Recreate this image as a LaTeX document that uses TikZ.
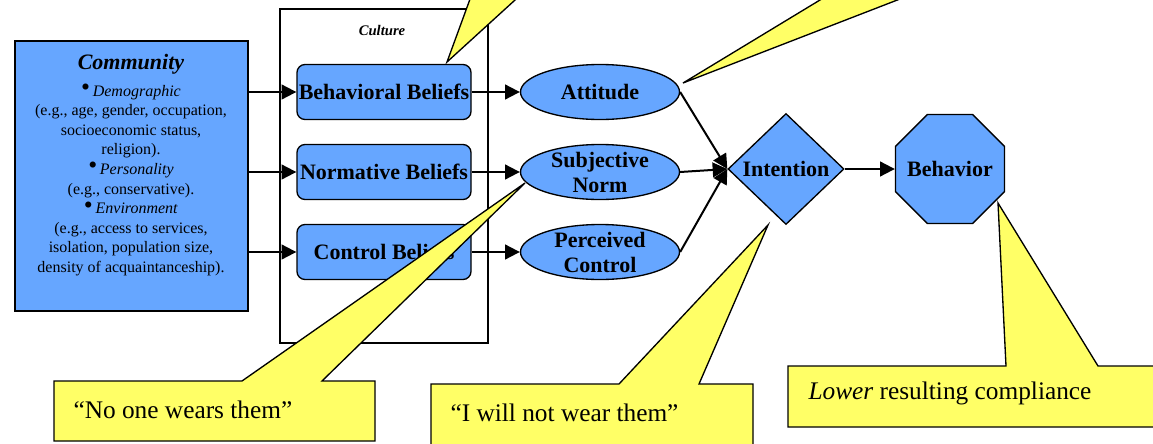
\documentclass[tikz,border=0pt]{standalone}
\usepackage{fontspec}
\setmainfont{Liberation Serif}
\usetikzlibrary{shapes.geometric,arrows.meta}
\definecolor{shapeblue}{RGB}{102,166,255}
\definecolor{noteyellow}{RGB}{255,255,102}
\newcommand{\dotitem}{\raisebox{0.5pt}[0pt][0pt]{\scalebox{1.6}{\textbullet}}\,}

\begin{document}
\begin{tikzpicture}[x=0.75pt,y=-0.75pt,thick,
    main box/.style={rectangle,draw,line width=1pt,fill=shapeblue,inner sep=0pt},
    belief node/.style={main box,rounded corners=6pt,minimum width=130.5pt,minimum height=41.25pt,font=\fontsize{16.5}{18}\selectfont\bfseries},
    link node/.style={ellipse,draw,line width=1pt,fill=shapeblue,minimum width=119.25pt,minimum height=41.25pt,inner sep=0pt},
    name text/.style={font=\fontsize{16.5}{18.75}\selectfont\bfseries,align=center,inner sep=0pt},
    note/.style={draw,line width=1pt,fill=noteyellow},
    note text/.style={font=\fontsize{19}{22}\selectfont,anchor=west,inner sep=0pt},
    flow/.style={line width=1.5pt,-{Triangle[length=11pt,width=11pt]}}]
    \useasboundingbox (0,0) rectangle (1153,443);
    \clip (0,0) rectangle (1153,443);

    \node[main box,minimum width=174.75pt,minimum height=202.5pt] at (131.5,176) (comm) {};
    \node[font=\fontsize{12}{14.7}\selectfont,align=center,anchor=north,inner sep=0pt] at (131,54) (commtext)
        {{\fontsize{16.5}{18}\selectfont\bfseries\itshape Community}\\[5pt]
        \dotitem\textit{Demographic}\\
        (e.g., age, gender, occupation,\\
        socioeconomic status,\\
        religion).\\
        \dotitem\textit{Personality}\\
        (e.g., conservative).\\
        \dotitem\textit{Environment}\\
        (e.g., access to services,\\
        isolation, population size,\\
        density of acquaintanceship).};

    \node[draw,line width=1pt,minimum width=156pt,minimum height=250.5pt,inner sep=0pt] at (384,176) (culture) {};
    \node[font=\fontsize{11}{13}\selectfont\bfseries\itshape] at (382,30) (culturetitle) {Culture};

    \node[belief node] at (384,92) (bb) {Behavioral Beliefs};
    \node[belief node] at (384,172) (nb) {Normative Beliefs};
    \node[belief node] at (384,252) (cb) {Control Beliefs};

    \node[link node,label={[name text]center:Attitude}] at (600,92) (att) {};
    \node[link node,label={[name text]center:Subjective\\Norm}] at (600,172) (sn) {};
    \node[link node,label={[name text]center:Perceived\\Control}] at (600,252) (pc) {};

    \node[diamond,draw,line width=1pt,fill=shapeblue,minimum width=87pt,minimum height=83.25pt,inner sep=0pt,
        label={[name text]center:Intention}] at (786,169) (int) {};
    \node[regular polygon,regular polygon sides=8,draw,line width=1pt,fill=shapeblue,minimum size=88.5pt,inner sep=0pt,
        label={[name text]center:Behavior}] at (950,169) (beh) {};

    \path[flow]
        (comm.east |- bb.west) edge (bb.west)
        (comm.east |- nb.west) edge (nb.west)
        (comm.east |- cb.west) edge (cb.west)
        (bb.east) edge (att.west)
        (nb.east) edge (sn.west)
        (cb.east) edge (pc.west)
        (att.east) edge (int.west)
        (sn.east) edge (int.west)
        (pc.east) edge (int.west)
        (int.east) edge (beh.west)
        ;

    % callouts
    \coordinate (tipculture) at (447,62);
    \coordinate (tipatt) at (683,83);
    \coordinate (tipnorm) at (525,183);
    \coordinate (tipint) at (768,225);
    \coordinate (tipbeh) at (998,203);

    \draw[note] (tipculture) -- (477,-20) -- (537,-20) -- cycle;
    \draw[note] (tipatt) -- (853,-20) -- (949,-20) -- cycle;
    \draw[note] (54,381) -- (242,381) -- (tipnorm) -- (322,381) -- (375,381) -- (375,441) -- (54,441) -- cycle;
    \draw[note] (431,384) -- (619,384) -- (tipint) -- (699,384) -- (753,384) -- (753,460) -- (431,460) -- cycle;
    \draw[note] (788,366) -- (1006,366) -- (tipbeh) -- (1098,366) -- (1170,366) -- (1170,427) -- (788,427) -- cycle;

    \node[note text] at (73,410) (notenorm) {“No one wears them”};
    \node[note text] at (450,413) (noteint) {“I will not wear them”};
    \node[note text] at (808,393) (notebeh) {\textit{Lower} resulting compliance};
\end{tikzpicture}
\end{document}
